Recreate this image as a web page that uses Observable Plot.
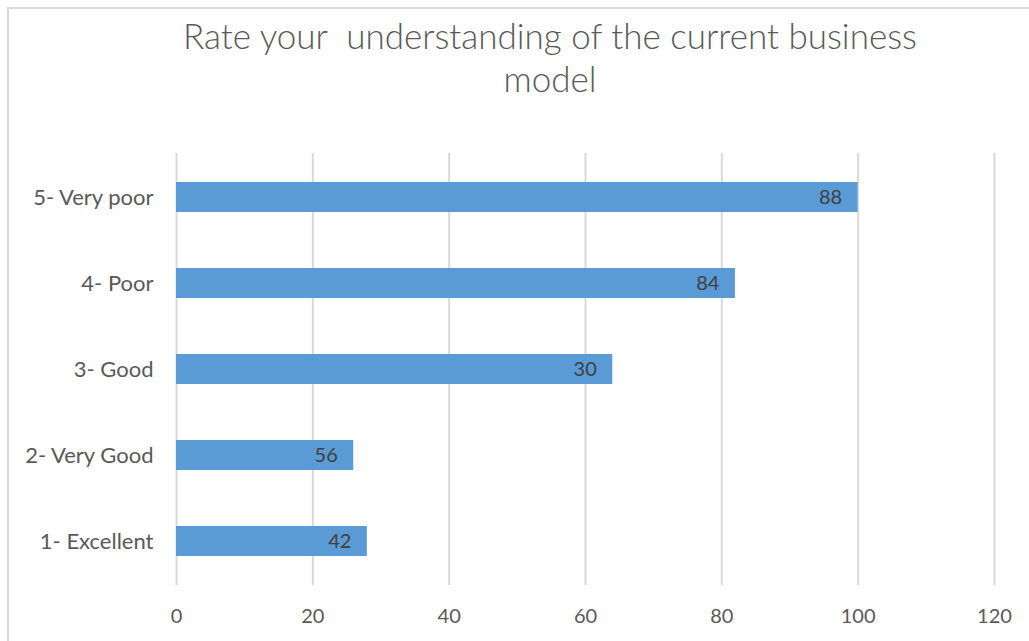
<!DOCTYPE html>
<html>
<head>
<meta charset="utf-8">
<script src="https://cdn.jsdelivr.net/npm/d3@7"></script>
<script src="https://cdn.jsdelivr.net/npm/@observablehq/plot@0.6"></script>
<style>
  html, body { margin: 0; padding: 0; width: 1029px; height: 641px; overflow: hidden; background: #fff; }
  #frame { position: absolute; left: 7px; top: 7px; width: 1100px; height: 700px;
           border-top: 2px solid #d9d9d9; border-left: 2px solid #d9d9d9; }
  #title { position: absolute; left: 50px; top: 14px; width: 1000px; text-align: center;
           font-family: Lato, sans-serif; font-weight: 300; font-size: 35px; line-height: 43px; color: #595959; }
  #chart { position: absolute; left: 0; top: 0; }
</style>
</head>
<body>
<div id="frame"></div>
<div id="title">Rate your&nbsp; understanding of the current business<br>model</div>
<div id="chart"></div>
<script>
const categories = ["5- Very poor", "4- Poor", "3- Good", "2- Very Good", "1- Excellent"];
const barValues = [100, 82, 64, 26, 28];
const labelTexts = ["88", "84", "30", "56", "42"];
const xTicks = [0, 20, 40, 60, 80, 100, 120];

const data = categories.map((c, i) => ({category: c, value: barValues[i], label: labelTexts[i]}));

const chart = Plot.plot({
  width: 1029,
  height: 641,
  marginLeft: 176,
  marginRight: 35,
  marginTop: 153,
  marginBottom: 56,
  style: {fontFamily: "Lato, sans-serif", fontSize: "20px", color: "#595959", background: "transparent"},
  x: {domain: [0, 120], ticks: xTicks, label: null},
  y: {domain: categories, label: null, paddingInner: 0.65, paddingOuter: 0.325},
  marks: [
    Plot.gridX(xTicks, {stroke: "#d9d9d9", strokeOpacity: 1, strokeWidth: 2}),
    Plot.barX(data, {x: "value", y: "category", fill: "#5b9bd5"}),
    Plot.text(data, {x: "value", y: "category", text: "label", textAnchor: "end", dx: -16,
                     fill: "#404040", fontSize: 20}),
    Plot.axisX({ticks: xTicks, tickSize: 0, tickPadding: 23, fontSize: 20, fill: "#595959"}),
    Plot.axisY({tickSize: 0, tickPadding: 23, fontSize: 22, fill: "#595959"})
  ]
});
document.getElementById("chart").appendChild(chart);
</script>
</body>
</html>
